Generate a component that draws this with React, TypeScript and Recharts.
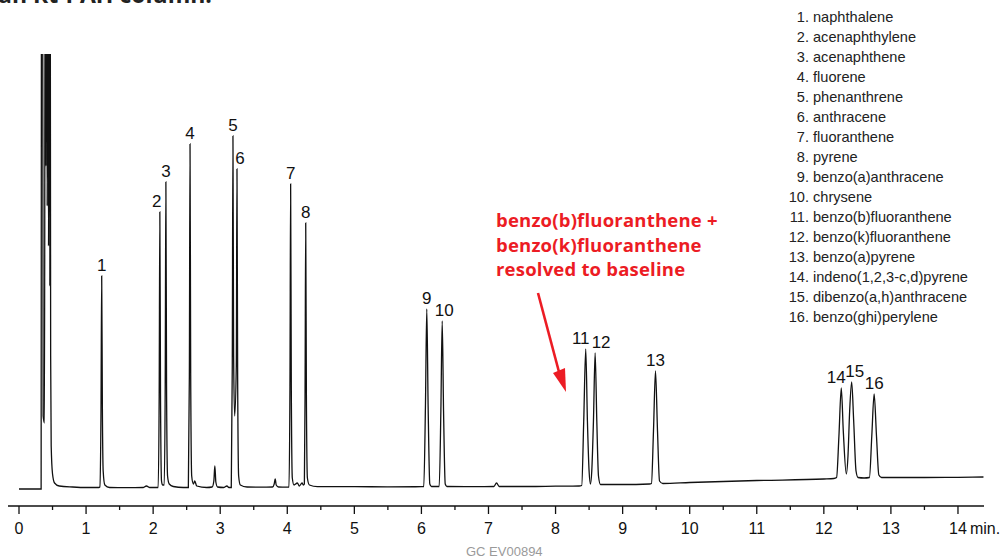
import React from "react";
import { LineChart, Line, XAxis, YAxis } from "recharts";

// chromatogram trace: [time (min), detector signal]
// the solvent front runs off the top of the plot (values above 452 are clipped)
const tracePoints: [number, number][] = [
  [0, 17], [0.33, 17], [0.335, 600], [0.352, 600], [0.36, 90], [0.38, 83],
  [0.39, 600], [0.4, 340], [0.41, 600], [0.42, 300], [0.43, 600], [0.44, 260], [0.45, 600], [0.46, 220], [0.465, 600],
  [0.472, 150], [0.48, 60], [0.5, 32], [0.53, 23], [0.6, 20], [0.8, 19], [1.0, 18.5], [1.19, 18.5],
  // 1
  [1.205, 19], [1.222, 90], [1.233, 230], [1.243, 100], [1.255, 35], [1.28, 21], [1.35, 18.5],
  [1.6, 18.3], [1.85, 18.5], [1.9, 20], [1.95, 18.5],
  // 2, 3
  [2.075, 18.5], [2.09, 110], [2.1, 294], [2.11, 110], [2.125, 25], [2.14, 21],
  [2.165, 21], [2.18, 120], [2.19, 324], [2.2, 120], [2.215, 30], [2.24, 22], [2.3, 19.5], [2.45, 18.5],
  // 4
  [2.525, 18.5], [2.54, 130], [2.55, 362], [2.56, 130], [2.575, 30], [2.6, 22], [2.62, 25], [2.65, 20],
  [2.8, 18.5], [2.88, 19], [2.905, 25], [2.92, 40], [2.935, 24], [2.96, 19], [3.05, 18.5], [3.1, 20], [3.13, 18.5],
  // 5, 6
  [3.165, 18.5], [3.18, 140], [3.19, 370], [3.2, 150], [3.215, 90],
  [3.24, 140], [3.25, 337], [3.26, 130], [3.275, 30], [3.3, 21], [3.4, 19], [3.6, 18.8], [3.78, 19],
  [3.805, 22], [3.82, 27], [3.835, 21], [3.87, 19], [3.98, 18.8],
  // 7, 8
  [4.025, 19], [4.04, 120], [4.05, 322], [4.06, 120], [4.075, 28], [4.1, 21], [4.15, 23], [4.18, 20], [4.22, 23], [4.24, 21],
  [4.255, 22], [4.265, 110], [4.275, 283], [4.285, 110], [4.3, 28], [4.33, 21], [4.45, 19.3], [5.0, 19.3], [5.5, 19.2], [6.0, 19.3],
  // 9, 10
  [6.035, 19.5], [6.06, 100], [6.08, 197], [6.1, 100], [6.125, 22], [6.15, 19.5], [6.24, 19.5],
  [6.265, 19.5], [6.29, 95], [6.31, 185], [6.33, 95], [6.355, 22], [6.38, 19.5], [6.8, 19.3], [7.08, 19.5],
  [7.12, 23], [7.16, 19.5], [7.6, 19.5], [8.0, 19.8], [8.35, 20],
  // 11, 12
  [8.39, 20.5], [8.42, 85], [8.45, 157], [8.475, 85], [8.5, 35], [8.52, 22],
  [8.54, 35], [8.565, 85], [8.59, 153], [8.615, 85], [8.64, 30], [8.67, 21.5], [9.0, 21.5], [9.4, 22],
  // 13
  [9.43, 22.5], [9.46, 75], [9.49, 135], [9.52, 75], [9.55, 25], [9.6, 22.5], [10, 23.5], [11, 25.5], [12, 27], [12.15, 27.5],
  // 14, 15, 16
  [12.19, 28.5], [12.225, 70], [12.26, 118], [12.29, 75], [12.335, 32],
  [12.36, 50], [12.385, 95], [12.415, 124], [12.445, 85], [12.48, 35], [12.51, 28.5], [12.6, 28],
  [12.68, 28.5], [12.715, 70], [12.75, 112], [12.785, 70], [12.82, 31], [12.86, 28.5], [13.5, 28.5], [14.0, 28.7], [14.38, 29],
];

const peakNumbers = ["1", "2", "3", "4", "5", "6", "7", "8", "9", "10", "11", "12", "13", "14", "15", "16"];
const peakTimes = [1.233, 2.1, 2.19, 2.55, 3.19, 3.25, 4.05, 4.275, 6.08, 6.31, 8.45, 8.59, 9.49, 12.26, 12.415, 12.75];
const peakHeights = [230, 294, 324, 362, 370, 337, 322, 283, 197, 185, 157, 153, 135, 118, 124, 112];
// small sideways shifts so neighbouring labels don't collide (px)
const labelShift = [0, -3, 0, 0, 0, 3, 0, 0, 0, 2, -5, 6, 0, -5, 3, 0];

const compounds = [
  "naphthalene",
  "acenaphthylene",
  "acenaphthene",
  "fluorene",
  "phenanthrene",
  "anthracene",
  "fluoranthene",
  "pyrene",
  "benzo(a)anthracene",
  "chrysene",
  "benzo(b)fluoranthene",
  "benzo(k)fluoranthene",
  "benzo(a)pyrene",
  "indeno(1,2,3-c,d)pyrene",
  "dibenzo(a,h)anthracene",
  "benzo(ghi)perylene",
];

const timeTicks = [0, 0.5, 1, 1.5, 2, 2.5, 3, 3.5, 4, 4.5, 5, 5.5, 6, 6.5, 7, 7.5, 8, 8.5, 9, 9.5, 10, 10.5, 11, 11.5, 12, 12.5, 13, 13.5, 14];

const callout = ["benzo(b)fluoranthene +", "benzo(k)fluoranthene", "resolved to baseline"];

const traceData = tracePoints.map(([time, signal]) => ({ time, signal }));
const peakData = peakTimes.map((t, i) => ({ time: t, signal: peakHeights[i], label: peakNumbers[i], shift: labelShift[i] }));

const narrow = "'Liberation Sans Narrow', 'Liberation Sans', Arial, sans-serif";
const plain = "'Liberation Sans', Arial, sans-serif";

function TimeTick(props: any) {
  const { x, y, payload } = props;
  const v = payload.value as number;
  const major = Number.isInteger(v);
  return (
    <g>
      <line x1={x} x2={x} y1={y} y2={y + (major ? 8 : 4)} stroke="#111" strokeWidth={1.3} />
      {major && (
        <text x={x} y={y + 28} textAnchor="middle" fontSize={16} fontFamily={narrow} fill="#111">
          {v}
        </text>
      )}
      {v === 14 && (
        <text x={x + 12} y={y + 28} fontSize={16} fontFamily={narrow} fill="#111">
          min.
        </text>
      )}
    </g>
  );
}

function PeakLabel(props: any) {
  const { x, y, index } = props;
  const p = peakData[index];
  if (!p) return null;
  return (
    <text x={x + p.shift} y={y - 5} textAnchor="middle" fontSize={17} fontFamily={narrow} fill="#111">
      {p.label}
    </text>
  );
}

export default function App() {
  return (
    <div style={{ position: "absolute", left: 0, top: 0, width: 1000, height: 560, background: "#fff", overflow: "hidden" }}>
      <LineChart width={1000} height={560} margin={{ top: 54, right: 16, bottom: 14, left: 8 }}>
        <XAxis
          type="number"
          dataKey="time"
          domain={[-0.164, 14.388]}
          allowDataOverflow
          ticks={timeTicks}
          interval={0}
          tickLine={false}
          tickSize={0}
          tickMargin={0}
          tick={<TimeTick />}
          axisLine={{ stroke: "#111", strokeWidth: 1.3 }}
          height={40}
        />
        <YAxis type="number" dataKey="signal" domain={[0, 452]} allowDataOverflow hide />
        <Line
          data={traceData}
          dataKey="signal"
          type="monotone"
          stroke="#111"
          strokeWidth={1.3}
          dot={false}
          activeDot={false}
          isAnimationActive={false}
        />
        <Line
          data={peakData}
          dataKey="signal"
          stroke="none"
          dot={false}
          activeDot={false}
          label={<PeakLabel />}
          isAnimationActive={false}
        />
      </LineChart>
      <svg width={1000} height={560} style={{ position: "absolute", left: 0, top: 0, pointerEvents: "none" }}>
        <text x={-2} y={3} fontSize={23} fontWeight={700} fontFamily="'Open Sans', Arial, sans-serif" fill="#222">
          an Rt-PAH column.
        </text>
        {compounds.map((name, i) => (
          <g key={name}>
            <text x={809} y={22 + i * 20} textAnchor="end" fontSize={14.6} fontFamily={plain} fill="#222">
              {i + 1}.
            </text>
            <text x={813} y={22 + i * 20} fontSize={14.6} fontFamily={plain} fill="#222">
              {name}
            </text>
          </g>
        ))}
        {callout.map((line, i) => (
          <text
            key={line}
            x={496}
            y={227 + i * 24.5}
            fontSize={18.5}
            fontWeight={700}
            letterSpacing={0.2}
            fontFamily="'Open Sans', Arial, sans-serif"
            fill="#ec1c24"
          >
            {line}
          </text>
        ))}
        <line x1={538} y1={293} x2={559} y2={372} stroke="#ec1c24" strokeWidth={2.6} />
        <polygon points="553,373 566,392 565,368" fill="#ec1c24" />
        <text x={466} y={556} fontSize={13} fontFamily={narrow} fill="#9a9a9a">
          GC  EV00894
        </text>
      </svg>
    </div>
  );
}
